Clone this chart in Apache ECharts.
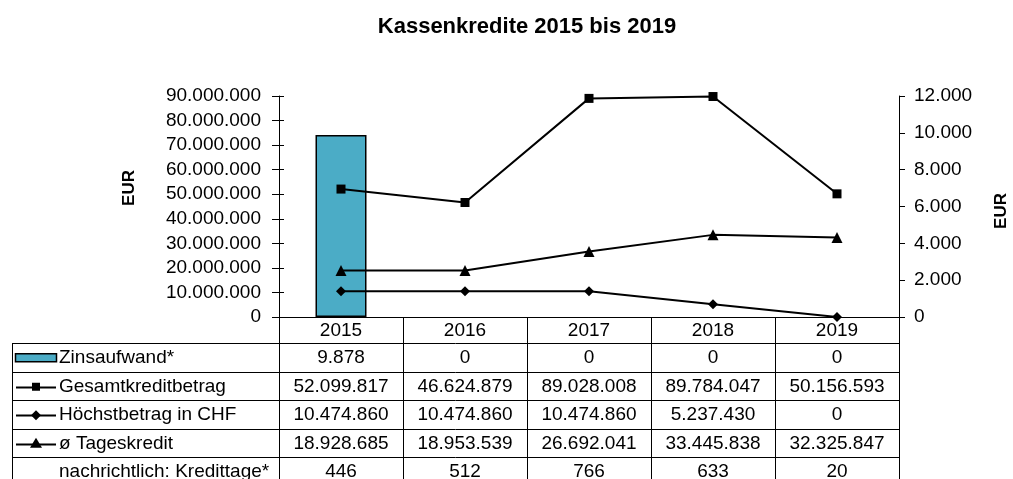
<!DOCTYPE html>
<html>
<head>
<meta charset="utf-8">
<script src="https://cdn.jsdelivr.net/npm/echarts@6/dist/echarts.min.js"></script>
<style>
html,body{margin:0;padding:0;background:#fff}
#main{width:1013px;height:479px}
</style>
</head>
<body>
<div id="main"></div>
<script>
var years = ['2015', '2016', '2017', '2018', '2019'];
var zinsaufwand = [9878, 0, 0, 0, 0];
var gesamtkredit = [52099817, 46624879, 89028008, 89784047, 50156593];
var hoechstbetrag = [10474860, 10474860, 10474860, 5237430, 0];
var tageskredit = [18928685, 18953539, 26692041, 33445838, 32325847];
var kredittage = [446, 512, 766, 633, 20];
var rowLabels = ['Zinsaufwand*', 'Gesamtkreditbetrag', 'Höchstbetrag in CHF', 'ø Tageskredit', 'nachrichtlich: Kredittage*'];
var rowData = [zinsaufwand, gesamtkredit, hoechstbetrag, tageskredit, kredittage];

var FONT = '"Liberation Sans", Arial, sans-serif';
var FS = 19;
var BAR_COLOR = '#4bacc6';

// 1.234.567 style
function dots(v) {
    return String(v).replace(/\B(?=(\d{3})+(?!\d))/g, '.');
}

var chart = echarts.init(document.getElementById('main'));

var option = {
    backgroundColor: '#fff',
    animation: false,
    textStyle: { fontFamily: FONT, color: '#000' },
    grid: { left: 279, right: 114, top: 96, bottom: 162 },
    xAxis: {
        type: 'category',
        data: years,
        axisLine: { lineStyle: { color: '#000', width: 1 } },
        axisTick: { show: false },
        axisLabel: { fontSize: FS, color: '#000', margin: 4, fontFamily: FONT }
    },
    yAxis: [
        {
            type: 'value', position: 'left', min: 0, max: 90000000, interval: 10000000,
            axisLine: { show: true, lineStyle: { color: '#000' } },
            axisTick: { show: true, length: 7, lineStyle: { color: '#000' } },
            axisLabel: { fontSize: FS, color: '#000', margin: 18, fontFamily: FONT, formatter: dots },
            splitLine: { show: false }
        },
        {
            type: 'value', position: 'right', min: 0, max: 12000, interval: 2000,
            axisLine: { show: true, lineStyle: { color: '#000' } },
            axisTick: { show: true, length: 6, lineStyle: { color: '#000' } },
            axisLabel: { fontSize: FS, color: '#000', margin: 15, fontFamily: FONT, formatter: dots },
            splitLine: { show: false }
        },
        {
            // inner half of the crossing ticks on the left axis
            type: 'value', position: 'left', min: 0, max: 90000000, interval: 10000000,
            axisLine: { show: false },
            axisTick: { show: true, inside: true, length: 5, lineStyle: { color: '#000' } },
            axisLabel: { show: false },
            splitLine: { show: false }
        }
    ],
    series: [
        {
            name: rowLabels[0], type: 'bar', yAxisIndex: 1, barWidth: 51,
            // empty bars get no outline
            data: zinsaufwand.map(function (v) {
                return v === 0 ? { value: v, itemStyle: { borderWidth: 0 } } : v;
            }),
            itemStyle: { color: BAR_COLOR, borderColor: '#000', borderWidth: 1.5 }
        },
        {
            name: rowLabels[1], type: 'line', yAxisIndex: 0, data: gesamtkredit,
            symbol: 'rect', symbolSize: 9, showAllSymbol: true,
            lineStyle: { color: '#000', width: 2 }, itemStyle: { color: '#000' }
        },
        {
            name: rowLabels[2], type: 'line', yAxisIndex: 0, data: hoechstbetrag,
            symbol: 'diamond', symbolSize: 10, showAllSymbol: true,
            lineStyle: { color: '#000', width: 2 }, itemStyle: { color: '#000' }
        },
        {
            name: rowLabels[3], type: 'line', yAxisIndex: 0, data: tageskredit,
            symbol: 'triangle', symbolSize: 11, showAllSymbol: true,
            lineStyle: { color: '#000', width: 2 }, itemStyle: { color: '#000' }
        }
    ]
};

chart.setOption(option);

// ---- data table under the plot, columns taken from the category axis ----
var centers = years.map(function (y) { return chart.convertToPixel({ xAxisIndex: 0 }, y); });
var band = centers[1] - centers[0];
var colLeft = centers[0] - band / 2;
var colRight = centers[centers.length - 1] + band / 2;
var axisY = 317;
var tableLeft = 12;
var rowTop = 343;
var rowH = 28.5;
var keyX1 = 16, keyX2 = 56, keyMid = 36, labelX = 59;

var g = [];
function hline(x1, x2, y) {
    g.push({ type: 'line', shape: { x1: x1, y1: Math.round(y) + 0.5, x2: x2, y2: Math.round(y) + 0.5 }, style: { stroke: '#000', lineWidth: 1 } });
}
function vline(x, y1, y2) {
    g.push({ type: 'line', shape: { x1: Math.round(x) + 0.5, y1: y1, x2: Math.round(x) + 0.5, y2: y2 }, style: { stroke: '#000', lineWidth: 1 } });
}
function txt(x, y, s, align, opts) {
    var st = { text: s, x: x, y: y, align: align, verticalAlign: 'middle', fill: '#000', font: FS + 'px ' + FONT };
    if (opts) Object.assign(st, opts);
    g.push({ type: 'text', style: st });
}

// title + axis names
txt(527, 27, 'Kassenkredite 2015 bis 2019', 'center', { font: 'bold 22px ' + FONT });
g.push({ type: 'text', x: 129, y: 188, rotation: Math.PI / 2, style: { text: 'EUR', align: 'center', verticalAlign: 'middle', fill: '#000', font: 'bold 17px ' + FONT } });
g.push({ type: 'text', x: 1001, y: 211, rotation: Math.PI / 2, style: { text: 'EUR', align: 'center', verticalAlign: 'middle', fill: '#000', font: 'bold 17px ' + FONT } });

// grid lines of the table
for (var c = 0; c <= years.length; c++) {
    vline(colLeft + c * band, axisY, 479);
}
vline(tableLeft, rowTop, 479);
for (var r = 0; r <= rowLabels.length; r++) {
    hline(tableLeft, colRight, rowTop + r * rowH);
}

// row labels, legend keys and values
rowLabels.forEach(function (lab, r) {
    var cy = rowTop + r * rowH + rowH / 2 + 1;
    txt(labelX, cy, lab, 'left');
    rowData[r].forEach(function (v, i) { txt(centers[i], cy, dots(v), 'center'); });
});

var k0 = rowTop + rowH / 2 + 1;
g.push({ type: 'rect', shape: { x: 15.5, y: k0 - 4.5, width: 41, height: 8 }, style: { fill: BAR_COLOR, stroke: '#000', lineWidth: 1.5 } });
[1, 2, 3].forEach(function (r) {
    var cy = Math.round(rowTop + r * rowH + rowH / 2 + 1) + 0.5;
    g.push({ type: 'line', shape: { x1: keyX1, y1: cy, x2: keyX2, y2: cy }, style: { stroke: '#000', lineWidth: 2 } });
});
var ky1 = rowTop + rowH * 1.5 + 1, ky2 = rowTop + rowH * 2.5 + 1, ky3 = rowTop + rowH * 3.5 + 1;
g.push({ type: 'rect', shape: { x: keyMid - 4, y: ky1 - 4, width: 8, height: 8 }, style: { fill: '#000' } });
g.push({ type: 'polygon', shape: { points: [[keyMid, ky2 - 5], [keyMid + 5, ky2], [keyMid, ky2 + 5], [keyMid - 5, ky2]] }, style: { fill: '#000' } });
g.push({ type: 'polygon', shape: { points: [[keyMid, ky3 - 6], [keyMid + 6, ky3 + 4], [keyMid - 6, ky3 + 4]] }, style: { fill: '#000' } });

chart.setOption({ graphic: g });
</script>
</body>
</html>
